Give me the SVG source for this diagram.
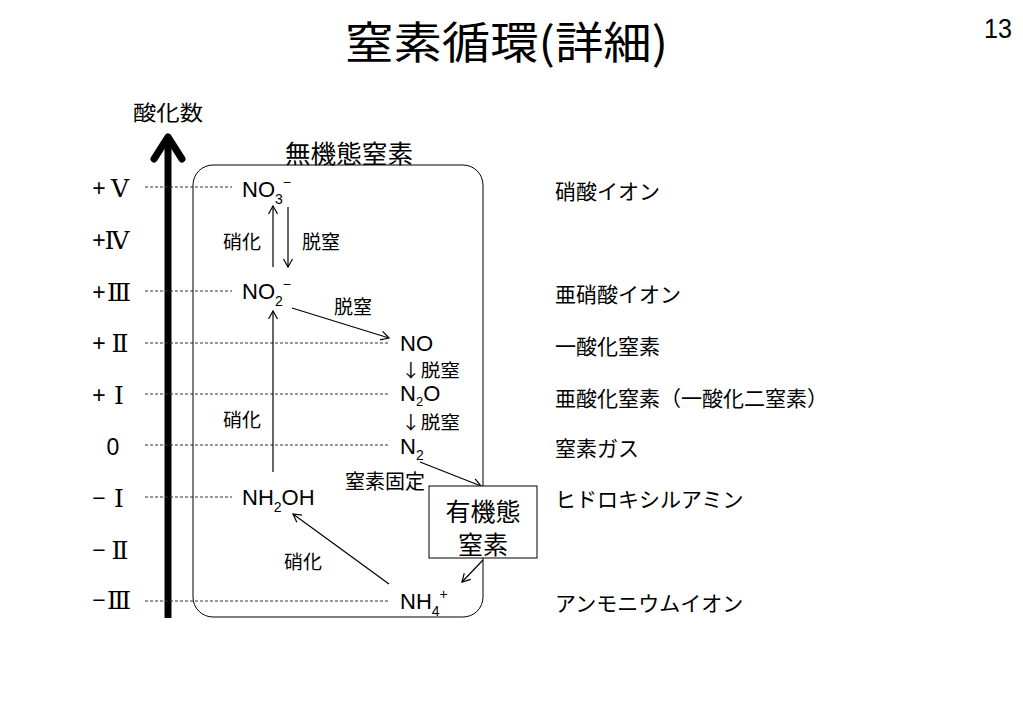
<svg xmlns="http://www.w3.org/2000/svg" width="1023" height="708" viewBox="0 0 1023 708">
<defs>
<style>
.jp{font-family:"Noto Sans CJK JP","Noto Sans",sans-serif;fill:#000}
.la{font-family:"Liberation Sans",Arial,sans-serif;fill:#000}
.rn{font-family:"DejaVu Serif","Liberation Serif","Noto Sans CJK JP",serif;fill:#000}
.dash{stroke:#333;stroke-width:1;stroke-dasharray:3 2;fill:none}
.arr{stroke:#000;stroke-width:1.2;fill:none;marker-end:url(#ah)}
</style>
<marker id="ah" viewBox="-10 -6 12 12" refX="0" refY="0" markerWidth="12" markerHeight="12" markerUnits="userSpaceOnUse" orient="auto">
<path d="M-8,-4.5 L0,0 L-8,4.5" fill="none" stroke="#000" stroke-width="1.2"/>
</marker>
</defs>
<rect width="1023" height="708" fill="#fff"/>

<g id="title">
<text class="jp" x="345" y="40" font-size="44" dominant-baseline="central" textLength="323" lengthAdjust="spacingAndGlyphs">窒素循環(詳細)</text>
<text class="la" x="1012" y="28" font-size="28" text-anchor="end" dominant-baseline="central" textLength="28" lengthAdjust="spacingAndGlyphs">13</text>
</g>

<g id="axis">
<text class="jp" x="133" y="111" font-size="21" dominant-baseline="central" textLength="70" lengthAdjust="spacingAndGlyphs">酸化数</text>
<line x1="168" y1="618" x2="168" y2="140" stroke="#000" stroke-width="7"/>
<polyline points="154,159 168,137 182,159" fill="none" stroke="#000" stroke-width="7" stroke-linecap="round" stroke-linejoin="round"/>
<g dominant-baseline="central">
<text class="la" font-size="23" x="99" y="188" text-anchor="middle">+</text><text class="rn" font-size="25" x="120" y="188" text-anchor="middle">Ⅴ</text>
<text class="la" font-size="23" x="99" y="240" text-anchor="middle">+</text><text class="rn" font-size="25" x="117" y="240" text-anchor="middle">Ⅳ</text>
<text class="la" font-size="23" x="99" y="292" text-anchor="middle">+</text><text class="rn" font-size="25" x="119" y="292" text-anchor="middle">Ⅲ</text>
<text class="la" font-size="23" x="99" y="343" text-anchor="middle">+</text><text class="rn" font-size="25" x="120" y="343" text-anchor="middle">Ⅱ</text>
<text class="la" font-size="23" x="99" y="395" text-anchor="middle">+</text><text class="rn" font-size="25" x="119" y="395" text-anchor="middle">Ⅰ</text>
<text class="la" font-size="23" x="113" y="447" text-anchor="middle">0</text>
<text class="la" font-size="23" x="99" y="498" text-anchor="middle">−</text><text class="rn" font-size="25" x="119" y="498" text-anchor="middle">Ⅰ</text>
<text class="la" font-size="23" x="99" y="550" text-anchor="middle">−</text><text class="rn" font-size="25" x="120" y="550" text-anchor="middle">Ⅱ</text>
<text class="la" font-size="23" x="99" y="600" text-anchor="middle">−</text><text class="rn" font-size="25" x="119" y="600" text-anchor="middle">Ⅲ</text>
</g>
</g>

<g id="levels">
<line class="dash" x1="145" y1="187" x2="232" y2="187"/>
<line class="dash" x1="145" y1="291" x2="232" y2="291"/>
<line class="dash" x1="145" y1="343" x2="389" y2="343"/>
<line class="dash" x1="145" y1="394" x2="389" y2="394"/>
<line class="dash" x1="145" y1="445" x2="389" y2="445"/>
<line class="dash" x1="145" y1="497" x2="232" y2="497"/>
<line class="dash" x1="145" y1="601" x2="389" y2="601"/>
</g>

<g id="inorganic">
<rect x="193" y="165" width="290" height="452" rx="20" ry="20" fill="none" stroke="#000" stroke-width="1"/>
<text class="jp" x="349" y="152" font-size="25" text-anchor="middle" dominant-baseline="central" textLength="128" lengthAdjust="spacingAndGlyphs">無機態窒素</text>
</g>

<g id="connectors">
<line class="arr" x1="273" y1="267" x2="273" y2="206"/>
<line class="arr" x1="288" y1="207" x2="288" y2="267"/>
<line class="arr" x1="273" y1="472" x2="273" y2="311"/>
<line class="arr" x1="292" y1="308" x2="389" y2="338"/>
<line class="arr" x1="420" y1="462" x2="481" y2="486"/>
<line class="arr" x1="483" y1="560" x2="462" y2="582"/>
<line class="arr" x1="389" y1="584" x2="293" y2="514"/>
<g class="jp" font-size="19" dominant-baseline="central">
<text x="223" y="240">硝化</text>
<text x="302" y="240">脱窒</text>
<text x="334" y="305">脱窒</text>
<text x="401" y="369" font-size="18" textLength="59" lengthAdjust="spacingAndGlyphs">↓脱窒</text>
<text x="401" y="421" font-size="18" textLength="59" lengthAdjust="spacingAndGlyphs">↓脱窒</text>
<text x="223" y="418">硝化</text>
<text x="284" y="560">硝化</text>
<text x="345" y="480" font-size="20">窒素固定</text>
</g>
</g>

<g id="no3"><text class="la" x="242" y="197" font-size="22">NO<tspan font-size="14" dy="7">3</tspan><tspan font-size="14" dy="-17">−</tspan></text></g>
<g id="no2"><text class="la" x="242" y="299" font-size="22">NO<tspan font-size="14" dy="7">2</tspan><tspan font-size="14" dy="-17">−</tspan></text></g>
<g id="no"><text class="la" x="400" y="351" font-size="22">NO</text></g>
<g id="n2o"><text class="la" x="400" y="401" font-size="22">N<tspan font-size="13" dy="5">2</tspan><tspan dy="-5">O</tspan></text></g>
<g id="n2"><text class="la" x="400" y="454" font-size="22">N<tspan font-size="14" dy="6">2</tspan></text></g>
<g id="nh2oh"><text class="la" x="242" y="505" font-size="22">NH<tspan font-size="14" dy="7">2</tspan><tspan dy="-7">OH</tspan></text></g>
<g id="nh4"><text class="la" x="400" y="609" font-size="22">NH<tspan font-size="14" dy="7">4</tspan><tspan font-size="14" dy="-17">+</tspan></text></g>

<g id="organic">
<rect x="429" y="486" width="108" height="72" fill="#fff" stroke="#000" stroke-width="1"/>
<text class="jp" x="483" y="510" font-size="25" text-anchor="middle" dominant-baseline="central">有機態</text>
<text class="jp" x="483" y="543" font-size="25" text-anchor="middle" dominant-baseline="central">窒素</text>
</g>

<g id="names" class="jp" font-size="21" dominant-baseline="central">
<text x="555" y="190">硝酸イオン</text>
<text x="555" y="293">亜硝酸イオン</text>
<text x="555" y="345">一酸化窒素</text>
<text x="555" y="397">亜酸化窒素（一酸化二窒素）</text>
<text x="555" y="447">窒素ガス</text>
<text x="555" y="498">ヒドロキシルアミン</text>
<text x="555" y="602">アンモニウムイオン</text>
</g>
</svg>
